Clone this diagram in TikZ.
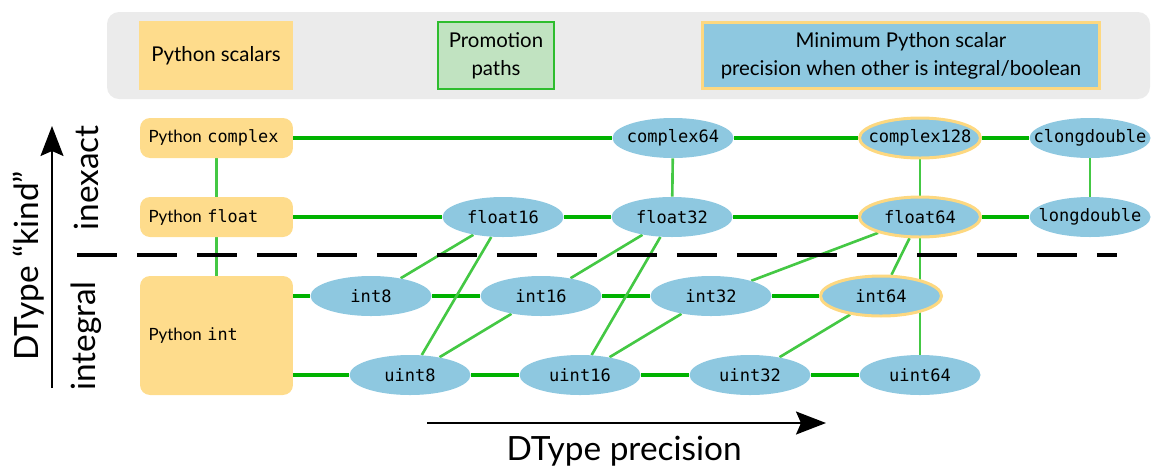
\documentclass[tikz,border=0pt]{standalone}
\usepackage{fontspec}
\setmainfont{Lato}
\setmonofont{DejaVu Sans Mono}
\usetikzlibrary{shapes.geometric,arrows.meta,backgrounds}

\definecolor{pyyellow}{RGB}{254,220,140}
\definecolor{dtblue}{RGB}{142,200,224}
\definecolor{minyellow}{RGB}{253,216,128}
\definecolor{legendgray}{RGB}{235,235,235}
\definecolor{promofill}{RGB}{193,227,193}
\definecolor{promoline}{RGB}{46,189,46}
\definecolor{mainpath}{RGB}{0,178,0}
\definecolor{sidepath}{RGB}{68,200,68}

\begin{document}
\begin{tikzpicture}[x=0.02cm, y=-0.02cm,
    pyscalar/.style={fill=pyyellow, rounded corners=0.2cm, minimum width=3.06cm, minimum height=0.8cm,
        text width=2.72cm, inner xsep=0.17cm, align=left, font=\fontsize{9.6}{11}\selectfont},
    dtype/.style={ellipse, fill=dtblue, minimum width=2.42cm, minimum height=0.8cm, inner sep=0pt,
        font=\ttfamily\fontsize{9.7}{11}\selectfont,
        execute at begin node=\hbox to 0pt\bgroup\hss, execute at end node=\hss\egroup},
    minprec/.style={dtype, draw=minyellow, line width=1.7pt},
    keybox/.style={minimum height=1.34cm, align=center, font=\fontsize{11.6}{15.9}\selectfont},
    mainedge/.style={draw=mainpath, line width=1.9pt},
    sideedge/.style={draw=sidepath, line width=1.5pt},
    axislabel/.style={font=\fontsize{19}{22}\selectfont, inner sep=0pt},
    axisarrow/.style={line width=1.1pt, -{Stealth[length=0.6cm, width=0.46cm, inset=0.1cm]}},
    divider/.style={line width=2.8pt, dash pattern=on 0.8cm off 0.4cm}]

    \useasboundingbox (0,0) rectangle (1165,471);

    % Legend
    \fill[legendgray, rounded corners=0.24cm] (107,12) rectangle (1150,99);
    \node[keybox, fill=pyyellow, minimum width=3.08cm, minimum height=1.38cm] (keyscalar) at (216,55.5) {Python scalars};
    \node[keybox, fill=promofill, draw=promoline, line width=1.1pt, minimum width=2.32cm] (keypath) at (496,55.5) {Promotion\\paths};
    \node[keybox, fill=dtblue, draw=minyellow, line width=1.7pt, minimum width=7.94cm, minimum height=1.32cm] (keymin) at (901,55.5)
        {Minimum Python scalar\\precision when other is integral/boolean};

    % Python scalars
    \node[pyscalar] (pcomplex) at (216.5,138) {Python \texttt{complex}};
    \node[pyscalar] (pfloat) at (216.5,217) {Python \texttt{float}};
    \node[pyscalar, minimum height=2.38cm] (pint) at (216.5,335.5) {Python \texttt{int}};

    % Inexact dtypes
    \node[dtype] (c64) at (673,138) {complex64};
    \node[minprec] (c128) at (920,138) {complex128};
    \node[dtype] (cld) at (1090,138) {clongdouble};
    \node[dtype] (f16) at (503,217) {float16};
    \node[dtype] (f32) at (672,217) {float32};
    \node[minprec] (f64) at (920,217) {float64};
    \node[dtype] (ld) at (1090,217) {longdouble};

    % Integral dtypes
    \node[dtype] (i8) at (371,296) {int8};
    \node[dtype] (i16) at (541,296) {int16};
    \node[dtype] (i32) at (711,296) {int32};
    \node[minprec] (i64) at (881,296) {int64};
    \node[dtype] (u8) at (410,375) {uint8};
    \node[dtype] (u16) at (580,375) {uint16};
    \node[dtype] (u32) at (750,375) {uint32};
    \node[dtype] (u64) at (920,375) {uint64};

    % Promotion paths
    \begin{pgfonlayer}{background}
        \draw[mainedge] (pcomplex) -- (c64) -- (c128) -- (cld);
        \draw[mainedge] (pfloat) -- (f16) -- (f32) -- (f64) -- (ld);
        \draw[mainedge] (pint.east |- i8) -- (i8) -- (i16) -- (i32) -- (i64);
        \draw[mainedge] (pint.east |- u8) -- (u8) -- (u16) -- (u32) -- (u64);
        \draw[sideedge] (pcomplex) -- (pfloat) -- (pint);
        \draw[sideedge] (c64) -- (f32);
        \draw[sideedge] (c128) -- (f64) -- (u64);
        \draw[sideedge] (cld) -- (ld);
        \draw[sideedge] (i8) -- (f16) -- (u8) -- (i16) -- (f32) -- (u16) -- (i32) -- (f64) -- (i64) -- (u32);
    \end{pgfonlayer}

    % Kind divider
    \coordinate (divleft) at (77,255);
    \coordinate (divright) at (1117,255);
    \draw[divider] (divleft) -- (divright);

    % Axes
    \coordinate (kindfoot) at (52,388);
    \coordinate (kindhead) at (52,126);
    \draw[axisarrow] (kindfoot) -- (kindhead);
    \coordinate (precfoot) at (427,423);
    \coordinate (prechead) at (826,423);
    \draw[axisarrow] (precfoot) -- (prechead);

    % Labels
    \node[axislabel, rotate=90] (kind) at (29,266) {DType “kind”};
    \node[axislabel, rotate=90] (inexact) at (86,178) {inexact};
    \node[axislabel, rotate=90] (integral) at (86,336) {integral};
    \node[axislabel, anchor=base] (precision) at (624,460) {DType precision};
\end{tikzpicture}
\end{document}
